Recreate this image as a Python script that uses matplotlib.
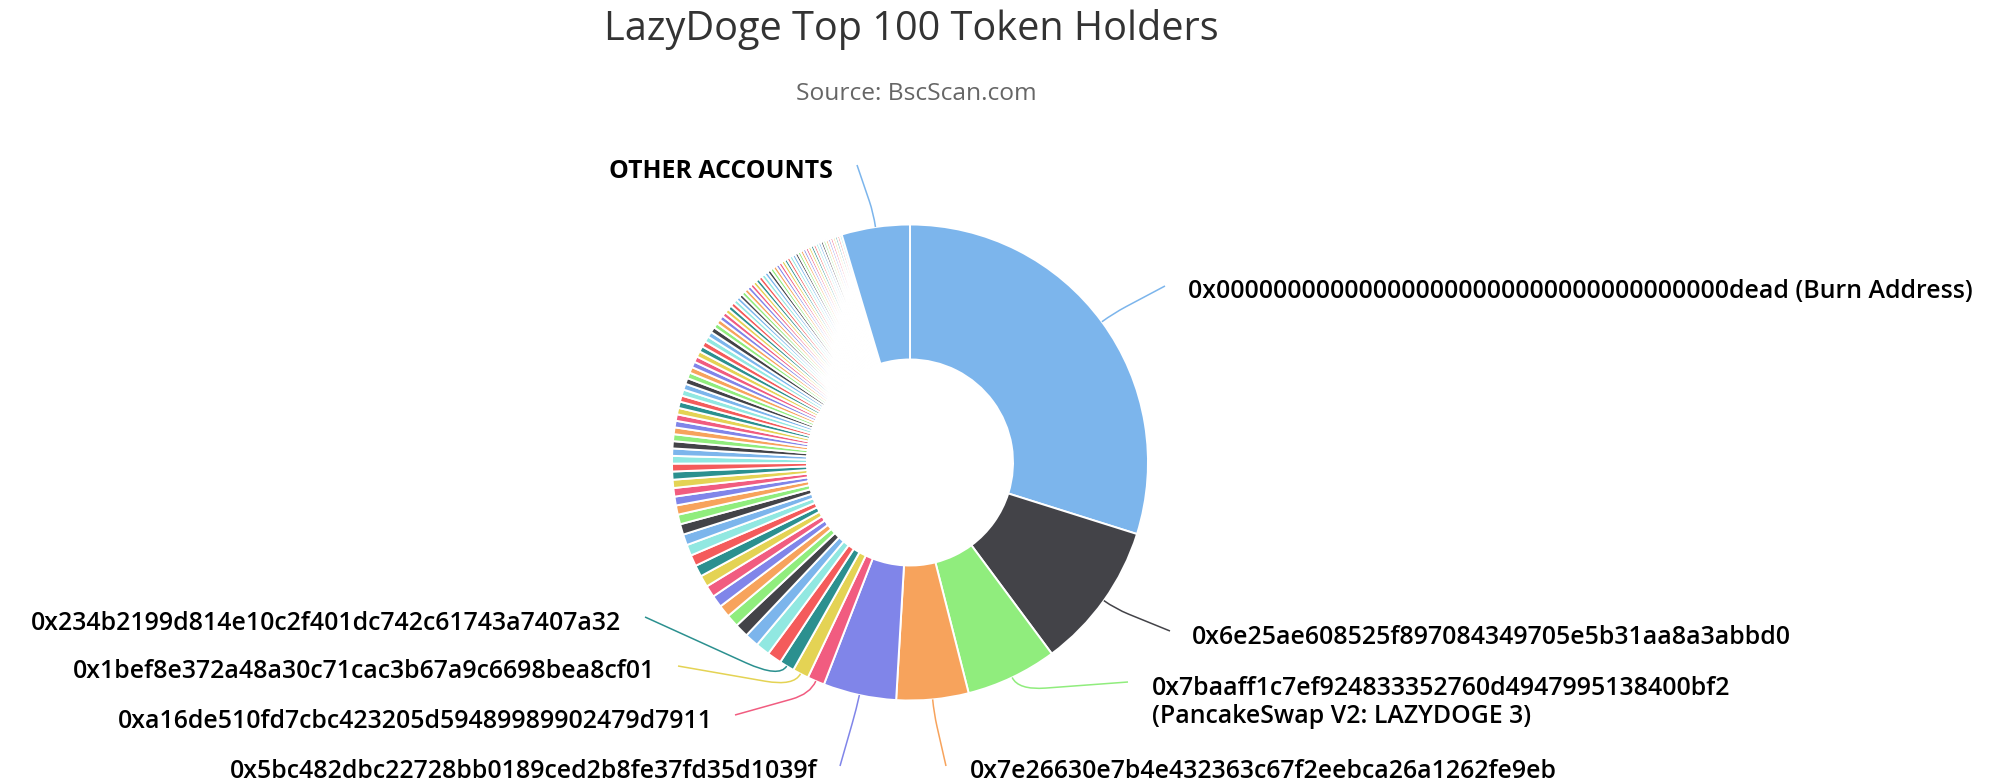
import matplotlib
matplotlib.use("Agg")
import matplotlib.pyplot as plt
from matplotlib.path import Path
from matplotlib.patches import PathPatch
import numpy as np

# ---------------- data ----------------
TITLE = "LazyDoge Top 100 Token Holders"
SUBTITLE = "Source: BscScan.com"

holder_labels = [
    "0x000000000000000000000000000000000000dead (Burn Address)",
    "0x6e25ae608525f897084349705e5b31aa8a3abbd0",
    "0x7baaff1c7ef924833352760d4947995138400bf2\n(PancakeSwap V2: LAZYDOGE 3)",
    "0x7e26630e7b4e432363c67f2eebca26a1262fe9eb",
    "0x5bc482dbc22728bb0189ced2b8fe37fd35d1039f",
    "0xa16de510fd7cbc423205d59489989902479d7911",
    "0x1bef8e372a48a30c71cac3b67a9c6698bea8cf01",
    "0x234b2199d814e10c2f401dc742c61743a7407a32",
]
holder_shares = [29.9, 10.0, 6.2, 4.9, 4.97, 1.17, 1.10, 1.02]

# holders ranked 9..100 (unlabelled), percent of supply
smaller_holder_shares = [
    0.98, 0.96, 0.95, 0.93,
    0.85, 0.83, 0.82, 0.80, 0.79, 0.78, 0.76, 0.75, 0.74, 0.72,
    0.66, 0.63, 0.60, 0.58, 0.56, 0.55, 0.53, 0.52, 0.50, 0.49,
    0.47, 0.46, 0.45, 0.44, 0.44, 0.43, 0.42, 0.42, 0.41, 0.40,
    0.40, 0.40, 0.39, 0.39, 0.39, 0.38, 0.38, 0.38, 0.37, 0.37,
    0.33, 0.32, 0.31, 0.30, 0.29, 0.29, 0.28, 0.27, 0.26, 0.25,
    0.26, 0.26, 0.26, 0.25, 0.25, 0.25, 0.25, 0.25, 0.24, 0.24,
    0.23, 0.23, 0.22, 0.22, 0.22, 0.21, 0.21, 0.21, 0.21, 0.20,
    0.20, 0.20, 0.19, 0.19, 0.19, 0.19, 0.18, 0.18, 0.18, 0.18,
    0.17, 0.17, 0.17, 0.17, 0.16, 0.16, 0.16, 0.16,
]
other_label = "OTHER ACCOUNTS"
other_share = 4.64

# ---------------- style / layout ----------------
HC_COLORS = ["#7cb5ec", "#434348", "#90ed7d", "#f7a35c", "#8085e9",
             "#f15c80", "#e4d354", "#2b908f", "#f45b5b", "#91e8e1"]
FONT = ["Open Sans", "DejaVu Sans"]

W, H = 2006, 782
CX, CY, R, R_IN = 910, 462.5, 238, 103

# (ha, text x, first baseline y, connector end x, connector end y) in pixels
label_layout = [
    ("left", 1188, 298, 1165, 286),
    ("left", 1192, 644, 1170, 631),
    ("left", 1152, 695, 1128, 682),
    ("left", 970, 778, 946, 766),
    ("right", 818, 778, 840, 766),
    ("right", 713, 728, 735, 715),
    ("right", 655, 678, 678, 666),
    ("right", 621, 630, 645, 617),
]
other_layout = ("right", 833, 178, 857, 165)
LINE_GAP = 28

values = holder_shares + smaller_holder_shares + [other_share]
colors = [HC_COLORS[i % len(HC_COLORS)] for i in range(len(values))]

fig = plt.figure(figsize=(W / 100, H / 100), dpi=100)
ax = fig.add_axes([0, 0, 1, 1])
wedges, _ = ax.pie(values, colors=colors, startangle=-90, counterclock=True,
                   center=(CX, CY), radius=R,
                   wedgeprops=dict(width=R - R_IN, edgecolor="white",
                                   linewidth=1.4))
ax.set_xlim(0, W)
ax.set_ylim(H, 0)
ax.set_aspect("equal", adjustable="box")
ax.axis("off")

renderer = fig.canvas.get_renderer()


def fitted_size(s, target_w, base=20, weight="normal"):
    t = fig.text(0, 0, s, fontsize=base, family=FONT, weight=weight)
    w = t.get_window_extent(renderer).width
    t.remove()
    return base * target_w / w


LABEL_WEIGHT = "semibold"
label_fs = fitted_size(holder_labels[1], 598, weight=LABEL_WEIGHT)
title_fs = fitted_size(TITLE, 614)
sub_fs = fitted_size(SUBTITLE, 239)

fig.text(911 / W, 1 - 40 / H, TITLE, ha="center", va="baseline",
         fontsize=title_fs, family=FONT, color="#333333")
fig.text(916 / W, 1 - 100 / H, SUBTITLE, ha="center", va="baseline",
         fontsize=sub_fs, family=FONT, color="#666666")


def connector(idx, ex, ey):
    w = wedges[idx]
    mid = np.deg2rad((w.theta1 + w.theta2) / 2)
    p0 = (CX + R * np.cos(mid), CY + R * np.sin(mid))
    pb = (CX + (R + 14) * np.cos(mid), CY + (R + 14) * np.sin(mid))
    pm = (pb[0] + 0.25 * (ex - pb[0]), pb[1] + 0.25 * (ey - pb[1]))
    path = Path([p0, pb, pm, (ex, ey)],
                [Path.MOVETO, Path.CURVE3, Path.CURVE3, Path.LINETO])
    ax.add_patch(PathPatch(path, fill=False, edgecolor=colors[idx],
                           lw=1.1, zorder=3))


def draw_label(idx, text, layout, weight):
    ha, x, y, ex, ey = layout
    connector(idx, ex, ey)
    for k, line in enumerate(text.split("\n")):
        ax.text(x, y + k * LINE_GAP, line, ha=ha, va="baseline",
                fontsize=label_fs, family=FONT, color="#000000",
                weight=weight, zorder=4)


for i, (lab, lay) in enumerate(zip(holder_labels, label_layout)):
    draw_label(i, lab, lay, LABEL_WEIGHT)
draw_label(len(values) - 1, other_label, other_layout, "bold")

fig.savefig("out.png", dpi=100)
